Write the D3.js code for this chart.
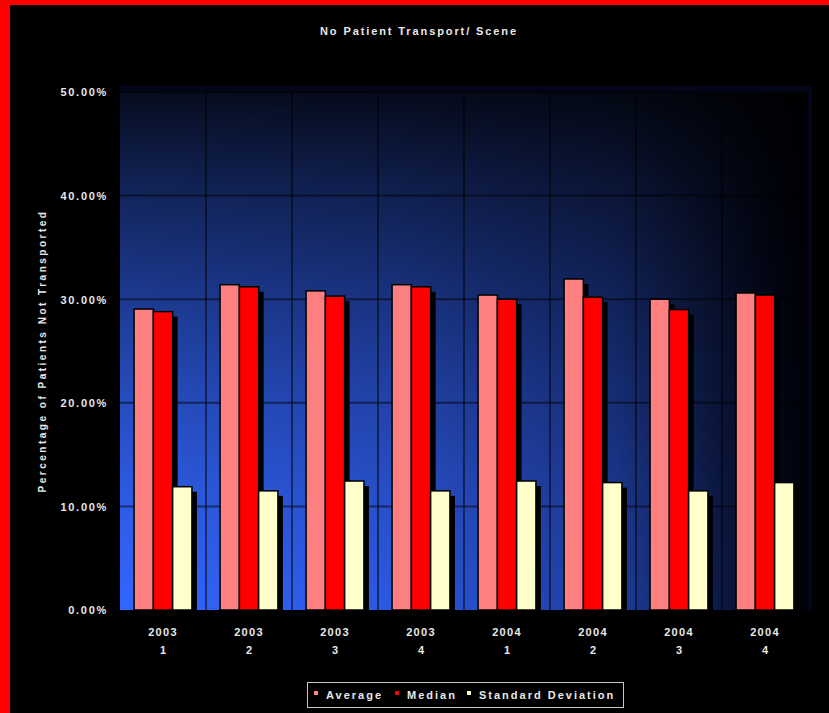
<!DOCTYPE html>
<html>
<head>
<meta charset="utf-8">
<script src="https://cdn.jsdelivr.net/npm/d3@7"></script>
<style>
  body { margin: 0; background: #000; }
  svg text { font-family: "Liberation Sans", Arial, sans-serif; font-weight: bold; fill: #e8e8e8; }
</style>
</head>
<body>
<div id="chart"><svg></svg></div>
<script>
// data
var years = ["2003", "2003", "2003", "2003", "2004", "2004", "2004", "2004"]
var quarters = ["1", "2", "3", "4", "1", "2", "3", "4"]
var seriesNames = ["Average", "Median", "Standard Deviation"]
var seriesColors = ["#ff8080", "#ff0000", "#ffffcc"]
var average = [0.2905, 0.314, 0.308, 0.314, 0.304, 0.3195, 0.300, 0.306]
var median = [0.288, 0.312, 0.303, 0.312, 0.300, 0.302, 0.290, 0.304]
var stdDev = [0.119, 0.115, 0.1245, 0.115, 0.1245, 0.123, 0.115, 0.123]
var yTicks = [0, 0.1, 0.2, 0.3, 0.4, 0.5]

var W = 829, H = 713
var plot = {left: 120, right: 808, top: 92, bottom: 610}

var svg = d3.select("#chart svg").attr("width", W).attr("height", H)

svg.append("rect").attr("width", W).attr("height", H).attr("fill", "#000")
// red frame on left and top
svg.append("rect").attr("x", 0).attr("y", 0).attr("width", 10).attr("height", H).attr("fill", "#ff0000")
svg.append("rect").attr("x", 0).attr("y", 0).attr("width", W).attr("height", 5).attr("fill", "#ff0000")

var defs = svg.append("defs")
// horizontal blue fade, then a black fade from the top laid over it
var hGrad = defs.append("linearGradient")
    .attr("id", "wallH")
    .attr("gradientUnits", "userSpaceOnUse")
    .attr("x1", plot.left).attr("x2", plot.right).attr("y1", 0).attr("y2", 0)
var hStops = [[0, "#3366ff"], [0.4, "#2c58e0"], [0.72, "#1e3c9c"], [0.83, "#12245e"], [0.93, "#050c28"], [1, "#000008"]]
hStops.forEach(function(s) { hGrad.append("stop").attr("offset", s[0]).attr("stop-color", s[1]) })

var vGrad = defs.append("linearGradient")
    .attr("id", "wallV")
    .attr("gradientUnits", "userSpaceOnUse")
    .attr("x1", 0).attr("x2", 0).attr("y1", plot.top).attr("y2", plot.bottom)
var vStops = [[0, 0.88], [0.2, 0.64], [0.4, 0.43], [0.6, 0.25], [0.8, 0.1], [1, 0]]
vStops.forEach(function(s) {
    vGrad.append("stop").attr("offset", s[0]).attr("stop-color", "#000").attr("stop-opacity", s[1])
})

var idx = d3.range(years.length)

var x0 = d3.scaleBand().domain(idx).range([plot.left, plot.right]).padding(0)
var x1 = d3.scaleBand().domain(d3.range(3)).range([0, x0.bandwidth()]).paddingInner(0).paddingOuter(0.73)
var y = d3.scaleLinear().domain([0, 0.5]).range([plot.bottom, plot.top])

// back wall
svg.append("rect")
    .attr("x", plot.left).attr("y", plot.top - 6)
    .attr("width", plot.right - plot.left + 4).attr("height", plot.bottom - plot.top + 6)
    .attr("fill", "#03061a")
svg.append("rect")
    .attr("x", plot.left).attr("y", plot.top)
    .attr("width", plot.right - plot.left).attr("height", plot.bottom - plot.top)
    .attr("fill", "url(#wallH)")
svg.append("rect")
    .attr("x", plot.left).attr("y", plot.top)
    .attr("width", plot.right - plot.left).attr("height", plot.bottom - plot.top)
    .attr("fill", "url(#wallV)")

// gridlines
svg.append("g").selectAll("line")
    .data(yTicks.slice(1))
    .enter().append("line")
    .attr("x1", plot.left).attr("x2", plot.right)
    .attr("y1", d => y(d)).attr("y2", d => y(d))
    .attr("stroke", "#000").attr("stroke-opacity", 0.5).attr("stroke-width", 2)
svg.append("g").selectAll("line")
    .data(idx.slice(1))
    .enter().append("line")
    .attr("x1", d => x0(d)).attr("x2", d => x0(d))
    .attr("y1", plot.top).attr("y2", plot.bottom)
    .attr("stroke", "#000").attr("stroke-opacity", 0.5).attr("stroke-width", 2)

// bars with a black drop shadow
var series = [average, median, stdDev]
var rows = []
series.forEach(function(vals, s) {
    vals.forEach(function(v, i) { rows.push({s: s, i: i, v: v}) })
})

var bars = svg.append("g")
rows.sort((a, b) => a.i - b.i || a.s - b.s).forEach(function(d) {
    var bx = x0(d.i) + x1(d.s), bw = x1.bandwidth()
    bars.append("rect")
        .attr("x", bx + 5).attr("y", y(d.v) + 5)
        .attr("width", bw).attr("height", y(0) - y(d.v) - 5)
        .attr("fill", "#000")
    bars.append("rect")
        .attr("x", bx).attr("y", y(d.v))
        .attr("width", bw).attr("height", y(0) - y(d.v))
        .attr("fill", seriesColors[d.s])
        .attr("stroke", "#000").attr("stroke-width", 1.5)
})

// y axis labels
var yAxis = svg.append("g")
    .attr("transform", "translate(" + plot.left + ",0)")
    .call(d3.axisLeft(y).tickValues(yTicks).tickFormat(d3.format(".2%")).tickSize(0).tickPadding(12))
yAxis.select(".domain").remove()
yAxis.selectAll("text")
    .style("font-size", "11px")
    .style("letter-spacing", "1.7px")
    .attr("dy", "0.35em")

// x axis labels, two lines
var xAxis = svg.append("g")
    .attr("transform", "translate(0," + plot.bottom + ")")
    .call(d3.axisBottom(x0).tickSize(0).tickFormat(""))
xAxis.select(".domain").remove()
xAxis.selectAll(".tick").append("text")
    .attr("y", 26)
    .style("text-anchor", "middle")
    .style("font-size", "11px")
    .style("letter-spacing", "1.3px")
    .text(d => years[d])
xAxis.selectAll(".tick").append("text")
    .attr("y", 44)
    .style("text-anchor", "middle")
    .style("font-size", "11px")
    .text(d => quarters[d])

// title
svg.append("text")
    .attr("x", 419).attr("y", 35)
    .style("text-anchor", "middle")
    .style("font-size", "11px")
    .style("letter-spacing", "1.9px")
    .text("No Patient Transport/ Scene")

// y axis title
svg.append("text")
    .attr("transform", "translate(46,351) rotate(-90)")
    .style("text-anchor", "middle")
    .style("font-size", "10px")
    .style("letter-spacing", "2.5px")
    .text("Percentage of Patients Not Transported")

// legend
var legend = svg.append("g")
legend.append("rect")
    .attr("x", 307.5).attr("y", 682.5).attr("width", 316).attr("height", 25)
    .attr("fill", "#000").attr("stroke", "#c8c8c8").attr("stroke-width", 1)
var legX = [314, 395, 467]
seriesNames.forEach(function(name, s) {
    legend.append("rect")
        .attr("x", legX[s]).attr("y", 691).attr("width", 4).attr("height", 4)
        .attr("fill", seriesColors[s])
    legend.append("text")
        .attr("x", legX[s] + 12).attr("y", 699)
        .style("font-size", "11px")
        .style("letter-spacing", "2px")
        .text(name)
})
</script>
</body>
</html>
